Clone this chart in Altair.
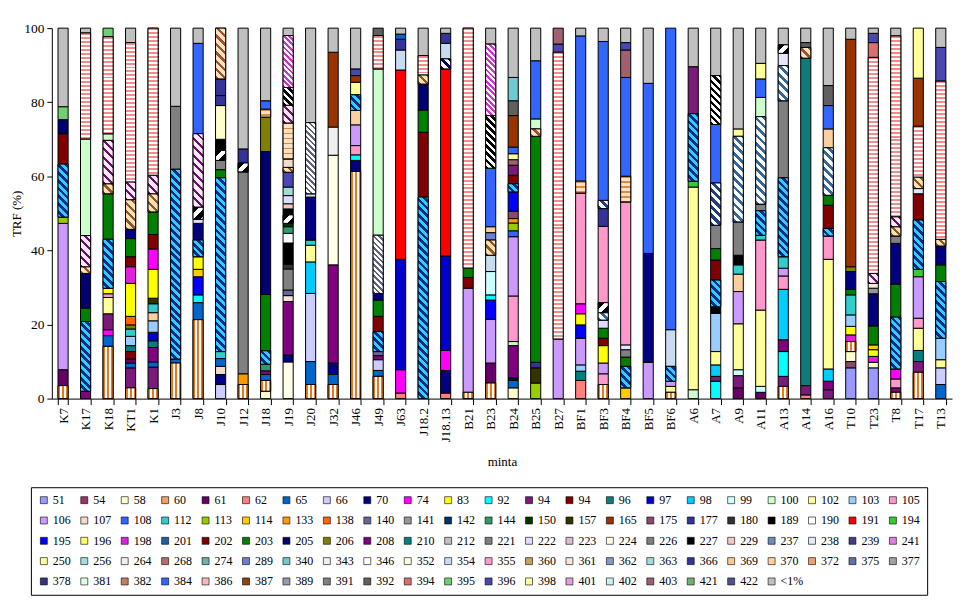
import math
import altair as alt
import pandas as pd

# ---------------- data ----------------
samples = ["K7", "K17", "K18", "KT1", "K1", "J3", "J8", "J10", "J12", "J18", "J19", "J20",
           "J32", "J46", "J49", "J63", "J18.2", "J18.13", "B21", "B23", "B24", "B25", "B27",
           "BF1", "BF3", "BF4", "BF5", "BF6", "A6", "A7", "A9", "A11", "A13", "A14", "A16",
           "T10", "T23", "T8", "T17", "T13"]

# taxa from bottom to top, and the cumulative % at the top of each segment
K7_taxa = ["60", "61", "106", "113", "201", "202", "205", "395", "<1%"]
K7_tops = [3.5, 7.8, 47.3, 49, 63.3, 71.5, 75.3, 78.8, 100]
K17_taxa = ["208", "201", "203", "205", "382", "401", "100", "386", "<1%"]
K17_tops = [2, 20.8, 24.4, 33.8, 35.6, 44, 70.1, 98.7, 100]
K18_taxa = ["60", "65", "74", "94", "102", "355", "83", "201", "203", "360", "401", "100", "386", "395"]
K18_tops = [14.1, 17, 18.6, 22.9, 27.3, 28.3, 29.8, 43, 55.3, 58, 69.7, 71.5, 97.7, 100]
KT1_taxa = ["60", "94", "65", "61", "94 ", "210", "103", "112", "206", "138", "83", "198", "202",
            "203", "70", "360", "401", "386", "<1%"]
KT1_tops = [2.9, 8.3, 9.6, 10.7, 12.7, 14.3, 16.8, 18.8, 19.9, 22.2, 31.1, 35.6, 38.3, 43.2,
            45.7, 53.7, 58.5, 96.1, 100]
K1_taxa = ["60", "94", "65", "208", "210", "97", "103", "370", "112", "157", "83", "74", "202",
           "203", "360", "401", "386"]
K1_tops = [2.7, 8.5, 9.9, 13.8, 15.6, 17.9, 21, 23.2, 25.6, 27.1, 34.9, 40.4, 44.3, 50.4, 55.3, 60.3, 100]
J3_taxa = ["60", "65", "201", "221", "<1%"]
J3_tops = [9.6, 10.7, 61.9, 78.9, 100]
J8_taxa = ["60", "65", "92", "195", "114", "83", "201", "70", "222", "226", "401", "108", "<1%"]
J8_tops = [21.3, 25.9, 28, 32.9, 34.9, 38.3, 42.8, 47.3, 48.4, 51.7, 71.5, 95.9, 100]
J10_taxa = ["66", "70", "107", "65", "112", "201", "203", "221", "226", "227", "58", "366", "177", "382"]
J10_tops = [3.8, 6.5, 8.7, 10.8, 12.7, 59.6, 61.8, 64.3, 67, 70, 79.1, 81.8, 86.3, 100]
J12_taxa = ["60", "133", "221", "226", "177", "<1%"]
J12_tops = [3.8, 6.7, 61.2, 63.6, 67.4, 100]
J18_taxa = ["58", "60", "65", "208", "144", "201", "203", "205", "206", "369", "108", "<1%"]
J18_tops = [2, 4.9, 6.5, 7.5, 9.3, 12.9, 28.1, 66.7, 76, 78.1, 80.4, 100]
J19_taxa = ["224", "70", "208", "361", "140", "221", "180", "189", "190", "144", "150", "226", "227",
            "229", "222", "363", "396", "360", "107", "369", "401", "391", "241", "<1%"]
J19_tops = [9.9, 11.8, 26.2, 27.8, 29.3, 35, 36.3, 42, 44.6, 46.4, 47.3, 49.6, 51.2, 52.6, 54.8,
            57.1, 61.1, 62.4, 64.7, 74.4, 79.2, 84, 98, 100]
J20_taxa = ["60", "65", "66", "98", "102", "112", "70", "354", "377", "<1%"]
J20_tops = [3.8, 10, 28.4, 36.9, 41.4, 42.8, 54.4, 55.3, 74.5, 100]
J32_taxa = ["60", "65", "70", "208", "224", "264", "165", "<1%"]
J32_tops = [3.8, 6.5, 9.6, 36.1, 65.7, 73.3, 93.5, 100]
J46_taxa = ["60", "70", "92", "105", "106", "370", "201", "102", "165", "396", "<1%"]
J46_tops = [61.3, 64.3, 65.8, 68.3, 73.9, 77.8, 82, 85.4, 87.2, 89, 100]
J49_taxa = ["60", "65", "66", "208", "140", "201", "202", "203", "70", "377", "100", "386", "392"]
J49_tops = [6, 7.6, 10.5, 11.6, 12.7, 18.1, 22.2, 26.6, 28.4, 44.1, 89, 98, 100]
J63_taxa = ["62", "74", "97", "191", "354", "177", "65", "<1%"]
J63_tops = [1.5, 7.8, 37.6, 88.7, 94.1, 97, 98.4, 100]
J18_2_taxa = ["201", "202", "203", "205", "360", "386", "<1%"]
J18_2_tops = [54.4, 71.9, 77.9, 84.9, 87.4, 92.6, 100]
J18_13_taxa = ["62", "70", "74", "97", "191", "239", "354", "177", "<1%"]
J18_13_tops = [1.5, 7.6, 13, 38.5, 89, 91.7, 95.9, 98.6, 100]
B21_taxa = ["60", "106", "202", "203", "386"]
B21_tops = [1.7, 29.8, 32.7, 35.2, 100]
B23_taxa = ["60", "61", "106", "195", "92", "99", "354", "360", "289", "370", "108", "391", "241", "<1%"]
B23_tops = [4.2, 9.6, 21.4, 26.6, 28, 34.3, 38.7, 42.8, 44.8, 46.4, 62.2, 76.4, 95.7, 100]
B24_taxa = ["58", "65", "70", "208", "100", "105", "106", "108", "113", "133", "175", "195", "201",
            "202", "94", "403", "102", "108", "165", "392", "340", "<1%"]
B24_tops = [2.9, 4.9, 5.6, 14.3, 15.4, 27.7, 43.7, 45.3, 47.4, 48.6, 50.6, 55.8, 58, 60.3, 63,
            64.5, 66.1, 67.9, 76.4, 80.4, 86.7, 100]
B25_taxa = ["113", "157", "177", "203", "382", "100", "108", "<1%"]
B25_tops = [4.2, 8.3, 9.8, 70.8, 72.8, 75.5, 91.2, 100]
B27_taxa = ["106", "386", "396", "403"]
B27_tops = [16.1, 93.5, 95.7, 100]
BF1_taxa = ["62", "210", "103", "106", "195", "83", "74", "105", "369", "108", "<1%"]
BF1_tops = [4.9, 7.4, 9.1, 16.3, 19.9, 22.9, 25.6, 55.5, 58.7, 97.9, 100]
BF3_taxa = ["60", "105", "106", "83", "202", "203", "222", "237", "226", "105", "177", "375", "108", "<1%"]
BF3_tops = [3.8, 6.7, 9.6, 14.3, 16.3, 19, 21.2, 23.2, 25.9, 46.5, 51.3, 53.5, 96.4, 100]
BF4_taxa = ["114", "201", "203", "221", "238", "105", "369", "108", "403", "396", "<1%"]
BF4_tops = [2.9, 8.7, 11.2, 13.2, 14.5, 53.1, 60, 86.7, 94.1, 96.1, 100]
BF5_taxa = ["106", "70", "108", "<1%"]
BF5_tops = [9.8, 39.2, 85.1, 100]
BF6_taxa = ["60", "102", "106", "201", "354", "108"]
BF6_tops = [1.7, 3.3, 4.7, 8.7, 18.6, 100]
A6_taxa = ["100", "102", "194", "201", "94", "<1%"]
A6_tops = [2.4, 57.1, 58.7, 76.9, 89.6, 100]
A7_taxa = ["92", "94", "98", "102", "103", "189", "201", "202", "203", "221", "375", "108", "391", "<1%"]
A7_tops = [4.7, 6, 9.1, 12.7, 23, 24.8, 32, 37.4, 40.5, 46.8, 58.2, 74, 87.2, 100]
A9_taxa = ["61", "94", "99", "102", "106", "370", "112", "189", "221", "237", "250", "<1%"]
A9_tops = [2.9, 6.2, 7.8, 20.2, 28.9, 33.6, 36.1, 38.7, 47.7, 70.8, 72.8, 100]
A11_taxa = ["61", "99", "102", "105", "112", "201", "221", "237", "100", "108", "250", "<1%"]
A11_tops = [1.7, 3.3, 23.9, 42.8, 44.1, 50.7, 52.5, 76.1, 81.3, 86.3, 90.5, 100]
A13_taxa = ["60", "94", "92", "208", "98", "105", "106", "112", "201", "221", "237", "238", "226", "<1%"]
A13_tops = [3.3, 6, 12.7, 15.9, 29.5, 33.1, 35.2, 38.3, 59.6, 80.4, 89.9, 93.2, 95.5, 100]
A14_taxa = ["62", "94", "96", "382", "392", "<1%"]
A14_tops = [1, 3.5, 91.9, 94.8, 96.1, 100]
A16_taxa = ["94", "208", "98", "102", "105", "201", "202", "203", "237", "370", "108", "392", "<1%"]
A16_tops = [2.4, 4.7, 8, 37.6, 43.9, 45.9, 52.2, 54.9, 67.7, 72.8, 79.1, 84.5, 100]
T10_taxa = ["51", "175", "58", "60", "198", "83", "103", "112", "203", "70", "206", "165", "<1%"]
T10_tops = [8.3, 10, 12.7, 15.4, 17.2, 19.5, 22.6, 28, 29.5, 34.3, 35.6, 97, 100]
T23_taxa = ["51", "58", "198", "83", "114", "203", "70", "141", "361", "401", "386", "394", "396", "<1%"]
T23_tops = [8.3, 9.8, 11.4, 13.2, 14.5, 19.6, 28.3, 29.8, 31.1, 33.8, 92.1, 96.1, 98.6, 100]
T8_taxa = ["60", "208", "105", "74", "201", "203", "70", "221", "360", "401", "386", "<1%"]
T8_tops = [1.7, 2.9, 5.3, 8, 22, 30.9, 41.9, 43.9, 46.4, 49.1, 97.9, 100]
T17_taxa = ["60", "94", "210", "102", "105", "106", "194", "201", "202", "238", "360", "386", "165", "398"]
T17_tops = [7.1, 10, 13, 19, 21.7, 32.9, 34.9, 48.2, 55.3, 56.7, 59.8, 73.5, 86.5, 100]
T13_taxa = ["65", "66", "102", "103", "201", "203", "70", "360", "386", "396", "<1%"]
T13_tops = [3.8, 8.3, 10.5, 16.3, 31.6, 36.1, 41.2, 43, 85.7, 94.8, 100]

profiles = {
    "K7": (K7_taxa, K7_tops), "K17": (K17_taxa, K17_tops), "K18": (K18_taxa, K18_tops),
    "KT1": (KT1_taxa, KT1_tops), "K1": (K1_taxa, K1_tops), "J3": (J3_taxa, J3_tops),
    "J8": (J8_taxa, J8_tops), "J10": (J10_taxa, J10_tops), "J12": (J12_taxa, J12_tops),
    "J18": (J18_taxa, J18_tops), "J19": (J19_taxa, J19_tops), "J20": (J20_taxa, J20_tops),
    "J32": (J32_taxa, J32_tops), "J46": (J46_taxa, J46_tops), "J49": (J49_taxa, J49_tops),
    "J63": (J63_taxa, J63_tops), "J18.2": (J18_2_taxa, J18_2_tops),
    "J18.13": (J18_13_taxa, J18_13_tops), "B21": (B21_taxa, B21_tops),
    "B23": (B23_taxa, B23_tops), "B24": (B24_taxa, B24_tops), "B25": (B25_taxa, B25_tops),
    "B27": (B27_taxa, B27_tops), "BF1": (BF1_taxa, BF1_tops), "BF3": (BF3_taxa, BF3_tops),
    "BF4": (BF4_taxa, BF4_tops), "BF5": (BF5_taxa, BF5_tops), "BF6": (BF6_taxa, BF6_tops),
    "A6": (A6_taxa, A6_tops), "A7": (A7_taxa, A7_tops), "A9": (A9_taxa, A9_tops),
    "A11": (A11_taxa, A11_tops), "A13": (A13_taxa, A13_tops), "A14": (A14_taxa, A14_tops),
    "A16": (A16_taxa, A16_tops), "T10": (T10_taxa, T10_tops), "T23": (T23_taxa, T23_tops),
    "T8": (T8_taxa, T8_tops), "T17": (T17_taxa, T17_tops), "T13": (T13_taxa, T13_tops),
}

# legend entries (the second "94" is a different TRF with the same label)
legend_keys = [
    "51", "54", "58", "60", "61", "62", "65", "66", "70", "74", "83", "92", "94", "94 ", "96", "97", "98", "99", "100", "102", "103", "105",
    "106", "107", "108", "112", "113", "114", "133", "138", "140", "141", "142", "144", "150", "157", "165", "175", "177", "180", "189", "190", "191", "194",
    "195", "196", "198", "201", "202", "203", "205", "206", "208", "210", "212", "221", "222", "223", "224", "226", "227", "229", "237", "238", "239", "241",
    "250", "256", "264", "268", "274", "289", "340", "343", "346", "352", "354", "355", "360", "361", "362", "363", "366", "369", "370", "372", "375", "377",
    "378", "381", "382", "384", "386", "387", "389", "391", "392", "394", "395", "396", "398", "401", "402", "403", "421", "422", "<1%",
]
legend_colors = [
    "#9999FF", "#993366", "#FFFFCC", "#F0A060", "#660066", "#FF8080", "#0066CC", "#CCCCFF", "#000080", "#FF00FF", "#FFFF00", "#00FFFF", "#7A1A7A", "#800000", "#0E7C7B", "#0000CC", "#00CCFF", "#CCFFFF", "#CCFFCC", "#FFFF99", "#99CCFF", "#FF99CC",
    "#CC99FF", "#F0DCC8", "#3366FF", "#33CCCC", "#99CC00", "#FFCC00", "#FF9900", "#FF6600", "#666699", "#969696", "#003366", "#339966", "#003300", "#333300", "#993300", "#8B4A6B", "#333399", "#333333", "#000000", "#FFFFFF", "#FF0000", "#33CC33",
    "#0000FF", "#FFFF66", "#DD22DD", "#1F5FA8", "#800000", "#008000", "#000070", "#808000", "#800080", "#008080", "#C0C0C0", "#808080", "#DDDDFF", "#D8C0D0", "#FFFFE8", "#808080", "#000000", "#F0C8C0", "#6E8EB6", "#E6E6FA", "#404080", "#E080E0",
    "#FFFF99", "#A0E0E0", "#F0F0F0", "#B07070", "#70B0A8", "#7080D0", "#70C8D0", "#F0F0F0", "#FFFFFF", "#FFFFE0", "#C8DCF0", "#FF99CC", "#C8A060", "#F8E4D8", "#8898C8", "#A0DCDC", "#333399", "#F8C890", "#FAD0A0", "#F0A070", "#6070A0", "#A0A0A0",
    "#333380", "#E0FFE0", "#C08060", "#3366FF", "#F8B8B8", "#8B4513", "#9898B8", "#808080", "#606060", "#D87070", "#70D070", "#4848B0", "#FFFF99", "#E0A0E0", "#C8F0F0", "#A06070", "#70B070", "#505090", "#C0C0C0",
]

# hatch styles: kind, background, line colour, period (px), line fraction
patterns = {
    "60": ("v", "#FFFFFF", "#E8781E", None, 0.5),
    "386": ("h", "#FFFFFF", "#F28C8C", 4.0, 0.5),
    "369": ("h", "#FFE2C4", "#E08A40", 5.0, 0.3),
    "201": ("d\\", "#002E8A", "#33CCFF", 5.5, 0.5),
    "226": ("d/", "#FFFFFF", "#000000", 9.0, 0.5),
    "237": ("d\\", "#FFFFFF", "#336699", 6.0, 0.45),
    "239": ("d\\", "#FFFFFF", "#000066", 6.0, 0.5),
    "375": ("d\\", "#FFFFFF", "#1F3F7F", 6.0, 0.5),
    "377": ("d\\", "#FFFFFF", "#606080", 4.0, 0.45),
    "241": ("d\\", "#FFFFFF", "#CC33CC", 4.0, 0.5),
    "360": ("d\\", "#FFE0B0", "#8B5A2B", 6.0, 0.4),
    "382": ("d\\", "#FFE4C4", "#A0522D", 6.0, 0.4),
    "391": ("d\\", "#FFFFFF", "#000000", 5.0, 0.5),
    "401": ("d\\", "#FFE8F8", "#6B0F6B", 6.0, 0.35),
}

# ---------------- layout ----------------
PLOT_W, PLOT_H = 904, 372
PAD_IN = 0.55
BAR_W = PLOT_W / len(samples) * (1 - PAD_IN)
FONT = "Liberation Serif"


def hatch(kind, bg, fg, period, frac, w, h):
    w = max(w, 0.5)
    h = max(h, 0.5)
    if kind == "h":
        x1, y1, x2, y2 = 0, 0, 0, 1
        n = max(h / period, 1)
    elif kind == "v":
        x1, y1, x2, y2 = 0, 0, 1, 0
        n = 2.5
    else:
        c = (w + h) / (w * w + h * h)
        if kind == "d/":
            x1, y1, x2, y2 = 0, 0, c * w, c * h
        else:
            x1, y1, x2, y2 = 0, 1, c * w, 1 - c * h
        n = max((w + h) / math.sqrt(2) / period, 1)
    stops = []
    i = 0
    while i < n:
        a = i / n
        b = min((i + frac) / n, 1)
        e = min((i + 1) / n, 1)
        stops += [{"offset": round(a, 5), "color": fg}, {"offset": round(b, 5), "color": fg},
                  {"offset": round(b, 5), "color": bg}, {"offset": round(e, 5), "color": bg}]
        i += 1
    return {"gradient": "linear", "x1": round(x1, 5), "y1": round(y1, 5),
            "x2": round(x2, 5), "y2": round(y2, 5), "stops": stops}


rows, prow = [], []
for s in samples:
    taxa, tops = profiles[s]
    lo = 0.0
    for t, hi in zip(taxa, tops):
        rows.append({"sample": s, "taxon": t, "y0": lo, "y1": hi})
        if t in patterns:
            kind, bg, fg, per, fr = patterns[t]
            hpx = (hi - lo) / 100 * PLOT_H
            prow.append({"sample": s, "taxon": t, "y0": lo, "y1": hi,
                         "grad": hatch(kind, bg, fg, per, fr, BAR_W, hpx)})
        lo = hi

df = pd.DataFrame(rows)
dfp = pd.DataFrame(prow)

xenc = alt.X("sample:N", sort=samples, title="minta",
             scale=alt.Scale(paddingInner=PAD_IN, paddingOuter=PAD_IN / 2),
             axis=alt.Axis(labelAngle=-90, labelFont=FONT, labelFontSize=13, labelColor="black",
                           titleFont=FONT, titleFontSize=13, titleFontWeight="normal",
                           titleColor="black", titlePadding=14, tickBand="extent", tickSize=6,
                           tickColor="black", domainColor="black", labelPadding=3, grid=False))
yenc = alt.Y("y0:Q", title="TRF (%)", scale=alt.Scale(domain=[0, 100], nice=False),
             axis=alt.Axis(values=list(range(0, 101, 10)), labelFont=FONT, labelFontSize=13.5,
                           labelColor="black", titleFont=FONT, titleFontSize=13,
                           titleFontWeight="normal", titleColor="black", titlePadding=0,
                           tickSize=5, tickColor="black", domainColor="black", grid=False,
                           labelPadding=3))

bars = alt.Chart(df).mark_bar(stroke="black", strokeWidth=1).encode(
    x=xenc, y=yenc, y2="y1:Q",
    color=alt.Color("taxon:N", scale=alt.Scale(domain=legend_keys, range=legend_colors),
                    legend=alt.Legend(title=None, orient="none", legendX=-21, legendY=461,
                                      direction="horizontal", columns=22, gridAlign="all",
                                      symbolType="square", symbolSize=49, symbolStrokeColor="black",
                                      symbolStrokeWidth=0.6, labelFont=FONT, labelFontSize=12,
                                      labelColor="black", labelOffset=3, columnPadding=2.6,
                                      rowPadding=8.4, padding=7, strokeColor="black",
                                      values=legend_keys, labelLimit=60, symbolLimit=200)),
)

hatched = alt.Chart(dfp).mark_bar(stroke="black", strokeWidth=1).encode(
    x=alt.X("sample:N", sort=samples), y="y0:Q", y2="y1:Q",
    fill=alt.Fill("grad:N", scale=None),
)

chart = alt.layer(bars, hatched).properties(
    width=PLOT_W, height=PLOT_H,
    autosize=alt.AutoSizeParams(type="none"),
    padding={"left": 44, "top": 19, "right": 10, "bottom": 200},
).configure_view(stroke=None)

chart.save("out.html", embed_options={"renderer": "svg", "actions": False})
